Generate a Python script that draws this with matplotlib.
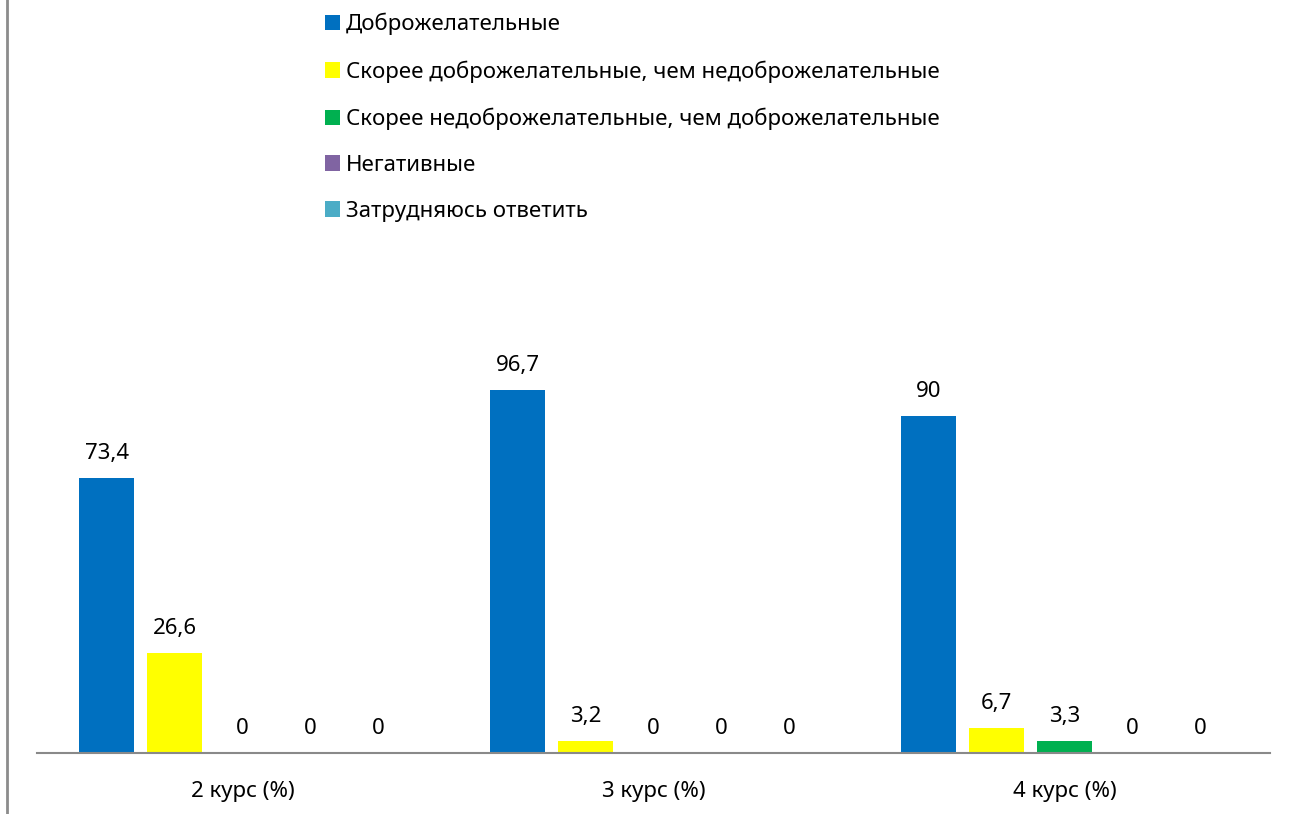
import matplotlib.pyplot as plt
import numpy as np
from matplotlib.lines import Line2D
from matplotlib.patches import Patch

plt.rcParams['font.family'] = ['Noto Sans', 'DejaVu Sans']

courses = ['2 курс (%)', '3 курс (%)', '4 курс (%)']
series_names = [
    'Доброжелательные',
    'Скорее доброжелательные, чем недоброжелательные',
    'Скорее недоброжелательные, чем доброжелательные',
    'Негативные',
    'Затрудняюсь ответить',
]
friendly = [73.4, 96.7, 90]
rather_friendly = [26.6, 3.2, 6.7]
rather_unfriendly = [0, 0, 3.3]
negative = [0, 0, 0]
hard_to_say = [0, 0, 0]
series_values = [friendly, rather_friendly, rather_unfriendly, negative, hard_to_say]
colors = ['#0070C0', '#FFFF00', '#00B050', '#8064A2', '#4BACC6']

FS = 16

fig = plt.figure(figsize=(12.89, 8.14), dpi=100)
ax = fig.add_axes([37 / 1289, 61 / 814, 1233 / 1289, 450 / 814])

x = np.arange(len(courses))
step = 0.165
width = 0.134
for i, (vals, col) in enumerate(zip(series_values, colors)):
    pos = x + (i - 2) * step
    ax.bar(pos, vals, width=width, color=col)
    for p, v in zip(pos, vals):
        ax.annotate(f"{v:g}".replace('.', ','), (p, v), xytext=(0, 10),
                    textcoords='offset points', ha='center', va='bottom',
                    fontsize=FS)

ax.set_xlim(-0.5, 2.5)
ax.set_ylim(0, 120)
ax.set_xticks(x)
ax.set_xticklabels(courses, fontsize=FS)
ax.tick_params(axis='x', length=0, pad=20)
ax.set_yticks([])
for side in ['left', 'right', 'top']:
    ax.spines[side].set_visible(False)
ax.spines['bottom'].set_color('#898989')
ax.spines['bottom'].set_linewidth(1.5)

handles = [Patch(facecolor=c) for c in colors]
fig.legend(handles, series_names, loc='upper left',
           bbox_to_anchor=(305 / 1289, 1 + 7 / 814), frameon=False,
           fontsize=FS, handlelength=0.68, handleheight=0.68,
           handletextpad=0.27, labelspacing=1.12)

# thin frame line on the left edge
fig.add_artist(Line2D([7 / 1289, 7 / 1289], [0, 1], color='#8c8c8c', lw=2))

fig.savefig('out.png', dpi=100)
